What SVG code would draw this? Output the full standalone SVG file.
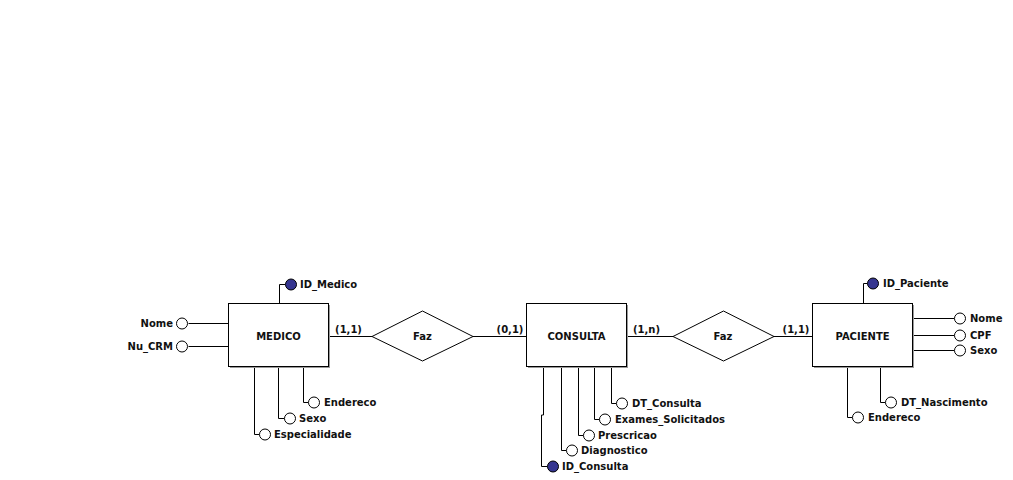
<svg xmlns="http://www.w3.org/2000/svg" width="1013" height="480" viewBox="0 0 1013 480">
<style>
text{font-family:"DejaVu Sans","Liberation Sans",sans-serif;font-weight:bold;font-size:10px;fill:#111}
.ent{fill:#fff;stroke:#000;stroke-width:1}
.sh{fill:#9a9a9a}
.rel{fill:#fff;stroke:#000;stroke-width:1}
.att{fill:#fff;stroke:#000;stroke-width:1}
.key{fill:#353590;stroke:#000;stroke-width:1}
.c{fill:none;stroke:#000;stroke-width:1}
.m{text-anchor:middle}
.e{text-anchor:end}
</style>
<rect width="1013" height="480" fill="#fff"/>
<g id="connectors">
<path class="c" d="M188.5 323.5H228.5M188.5 346.5H228.5M279.5 303V284.5H285.5"/>
<path class="c" d="M303.5 366V402.5H308.5M278.5 366V418.5H284.5M254.5 366V434.5H259.5"/>
<path class="c" d="M328 336.5H372M473 336.5H526M626 336.5H673M773 336.5H812"/>
<path class="c" d="M611.5 367V403.5H616.5M594.5 367V419.5H599.5M578.5 367V435.5H583.5M561.5 367V450.5H566.5M543.5 367V415H541.5V466.5H547.5"/>
<path class="c" d="M863.5 303V283.5H867.5M913 318.5H954.5M913 335.5H954.5M913 350.5H954.5M847.5 367V417.5H852.5M880.5 367V402.5H885.5"/>
</g>
<g id="medico">
<rect class="sh" x="230" y="305" width="100" height="63"/>
<rect class="ent" x="228.5" y="303.5" width="100" height="63"/>
<text class="m" x="278.5" y="340">MEDICO</text>
</g>
<g id="medico-id"><circle class="key" cx="291" cy="284.5" r="5.5"/><text x="300" y="288">ID_Medico</text></g>
<g id="medico-nome"><circle class="att" cx="182" cy="323.5" r="5.5"/><text class="e" x="173" y="327">Nome</text></g>
<g id="medico-crm"><circle class="att" cx="182" cy="346.5" r="5.5"/><text class="e" x="173" y="350">Nu_CRM</text></g>
<g id="medico-endereco"><circle class="att" cx="314" cy="402.5" r="5.5"/><text x="324" y="406">Endereco</text></g>
<g id="medico-sexo"><circle class="att" cx="290" cy="418.5" r="5.5"/><text x="299" y="422">Sexo</text></g>
<g id="medico-especialidade"><circle class="att" cx="265" cy="434.5" r="5.5"/><text x="274" y="438">Especialidade</text></g>
<g id="faz1">
<polygon class="rel" points="372,336.5 422.5,311 473,336.5 422.5,361"/>
<text class="m" x="422.5" y="340">Faz</text>
</g>
<text class="m" x="348.5" y="333">(1,1)</text>
<text class="m" x="510" y="333">(0,1)</text>
<g id="consulta">
<rect class="sh" x="528" y="305" width="100" height="63"/>
<rect class="ent" x="526.5" y="303.5" width="100" height="63"/>
<text class="m" x="576.5" y="340">CONSULTA</text>
</g>
<g id="consulta-dt"><circle class="att" cx="622" cy="403.5" r="5.5"/><text x="632" y="407">DT_Consulta</text></g>
<g id="consulta-exames"><circle class="att" cx="605" cy="419.5" r="5.5"/><text x="615" y="423">Exames_Solicitados</text></g>
<g id="consulta-prescricao"><circle class="att" cx="589" cy="435.5" r="5.5"/><text x="598" y="439">Prescricao</text></g>
<g id="consulta-diagnostico"><circle class="att" cx="572" cy="450.5" r="5.5"/><text x="581" y="454">Diagnostico</text></g>
<g id="consulta-id"><circle class="key" cx="553" cy="466.5" r="5.5"/><text x="562" y="470">ID_Consulta</text></g>
<text class="m" x="646.5" y="333">(1,n)</text>
<g id="faz2">
<polygon class="rel" points="673,336.5 723.5,311 774,336.5 723.5,361"/>
<text class="m" x="723" y="340">Faz</text>
</g>
<text class="m" x="796" y="333">(1,1)</text>
<g id="paciente">
<rect class="sh" x="814" y="305" width="100" height="63"/>
<rect class="ent" x="812.5" y="303.5" width="100" height="63"/>
<text class="m" x="862.5" y="340">PACIENTE</text>
</g>
<g id="paciente-id"><circle class="key" cx="873" cy="283.5" r="5.5"/><text x="883" y="287">ID_Paciente</text></g>
<g id="paciente-nome"><circle class="att" cx="960" cy="318.5" r="5.5"/><text x="970" y="322">Nome</text></g>
<g id="paciente-cpf"><circle class="att" cx="960" cy="335.5" r="5.5"/><text x="970" y="339">CPF</text></g>
<g id="paciente-sexo"><circle class="att" cx="960" cy="350.5" r="5.5"/><text x="970" y="354">Sexo</text></g>
<g id="paciente-endereco"><circle class="att" cx="858" cy="417.5" r="5.5"/><text x="868" y="421">Endereco</text></g>
<g id="paciente-dtnasc"><circle class="att" cx="891" cy="402.5" r="5.5"/><text x="901" y="406">DT_Nascimento</text></g>
</svg>
